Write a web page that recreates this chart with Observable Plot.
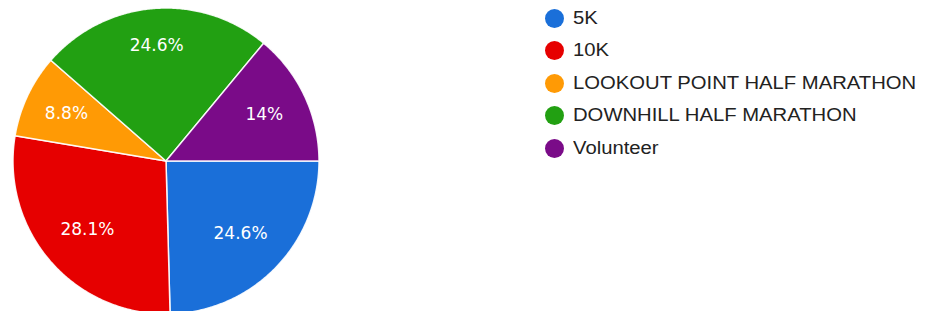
<!DOCTYPE html>
<html>
<head>
<meta charset="utf-8">
<script src="https://cdn.jsdelivr.net/npm/d3@7"></script>
<script src="https://cdn.jsdelivr.net/npm/@observablehq/plot@0.6"></script>
<style>
  html, body { margin: 0; padding: 0; background: #fff; }
  #wrap { position: relative; width: 926px; height: 311px; overflow: hidden; }
  #chart { position: absolute; left: 0; top: 0; }
  #legend { position: absolute; left: 545px; top: 2px; }
  .row { height: 32.5px; display: flex; align-items: center; }
  .dot { width: 19px; height: 19px; border-radius: 50%; flex: none; }
  .lab { margin-left: 9px; font-family: Arial, "Liberation Sans", sans-serif; font-size: 18px;
         color: #222; white-space: nowrap; transform: scaleX(1.125); transform-origin: left center; }
</style>
</head>
<body>
<div id="wrap">
  <div id="chart"></div>
  <div id="legend"></div>
</div>
<script>
// ---- data ----
const categories = ["5K", "10K", "LOOKOUT POINT HALF MARATHON", "DOWNHILL HALF MARATHON", "Volunteer"];
const percents = [24.6, 28.1, 8.8, 24.6, 14];
const labels = ["24.6%", "28.1%", "8.8%", "24.6%", "14%"];
const colors = ["#1a6fd9", "#e60000", "#ff9a05", "#22a012", "#7a0b88"];

// ---- layout ----
const W = 926, H = 311;
const CX = 165.5, CY = 160.5, R = 153;
const START = Math.PI / 2; // first slice starts at 3 o'clock, clockwise
const labelRadius = [0.68, 0.68, 0.72, 0.76, 0.71]; // label distance from centre (fraction of radius)

const total = d3.sum(percents);
let acc = START;
const slices = categories.map((name, i) => {
  const a0 = acc;
  const a1 = acc + (percents[i] / total) * 2 * Math.PI;
  acc = a1;
  return {name, value: percents[i], label: labels[i], a0, a1, mid: (a0 + a1) / 2, lr: labelRadius[i]};
});

// unit-circle polygon per slice (angle clockwise from 12 o'clock, y downward)
const features = slices.map(s => {
  const pts = [[0, 0]];
  const steps = Math.max(2, Math.ceil((s.a1 - s.a0) / (Math.PI / 360)));
  for (let k = 0; k <= steps; ++k) {
    const a = s.a0 + (s.a1 - s.a0) * k / steps;
    pts.push([Math.sin(a), -Math.cos(a)]);
  }
  pts.push([0, 0]);
  return {type: "Feature", properties: {name: s.name}, geometry: {type: "Polygon", coordinates: [pts]}};
});

const projection = d3.geoTransform({
  point(x, y) { this.stream.point(CX + R * x, CY + R * y); }
});

const chart = Plot.plot({
  width: W,
  height: H,
  margin: 0,
  projection,
  color: {domain: categories, range: colors},
  marks: [
    Plot.geo(features, {fill: d => d.properties.name, stroke: "#fff", strokeWidth: 1.5, strokeOpacity: 0.9}),
    Plot.text(slices, {
      x: d => d.lr * Math.sin(d.mid),
      y: d => -d.lr * Math.cos(d.mid),
      text: "label",
      fill: "#fff",
      fontSize: 17,
      fontFamily: "DejaVu Sans",
      textAnchor: "middle"
    })
  ]
});
document.getElementById("chart").appendChild(chart);

// ---- legend ----
const legend = document.getElementById("legend");
categories.forEach((c, i) => {
  const row = document.createElement("div");
  row.className = "row";
  const dot = document.createElement("span");
  dot.className = "dot";
  dot.style.background = colors[i];
  const lab = document.createElement("span");
  lab.className = "lab";
  lab.textContent = c;
  row.appendChild(dot);
  row.appendChild(lab);
  legend.appendChild(row);
});
</script>
</body>
</html>
